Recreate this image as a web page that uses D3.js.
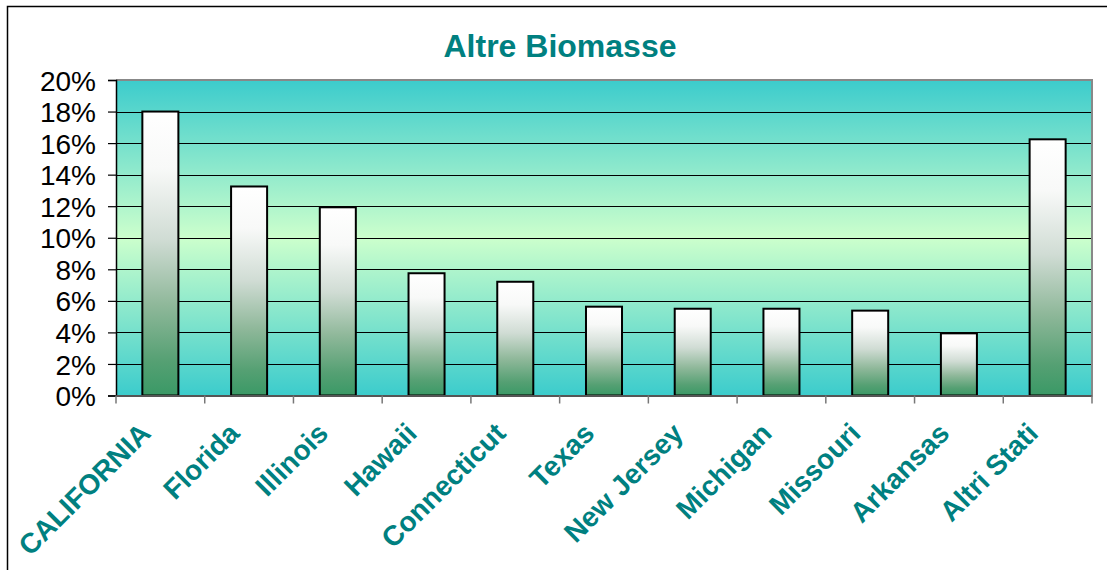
<!DOCTYPE html>
<html>
<head>
<meta charset="utf-8">
<script src="https://cdn.jsdelivr.net/npm/d3@7"></script>
<style>
  html, body { margin: 0; padding: 0; background: #fff; }
  svg { display: block; }
</style>
</head>
<body>
<svg id="chart" width="1107" height="570"></svg>
<script>
const title = "Altre Biomasse";
const categories = ["CALIFORNIA", "Florida", "Illinois", "Hawaii", "Connecticut", "Texas", "New Jersey", "Michigan", "Missouri", "Arkansas", "Altri Stati"];
const values = [0.180, 0.1325, 0.1193, 0.0775, 0.0721, 0.0563, 0.0550, 0.0550, 0.0538, 0.0394, 0.1624];
const yTicks = [0, 0.02, 0.04, 0.06, 0.08, 0.10, 0.12, 0.14, 0.16, 0.18, 0.20];

const svg = d3.select("#chart");
const plot = { left: 116, right: 1092, top: 80, bottom: 395.5 };

// defs: gradients
const defs = svg.append("defs");
const bg = defs.append("linearGradient").attr("id", "bgGrad")
  .attr("x1", 0).attr("y1", 0).attr("x2", 0).attr("y2", 1);
bg.append("stop").attr("offset", "0%").attr("stop-color", "#3ccccc");
bg.append("stop").attr("offset", "50%").attr("stop-color", "#ccffcc");
bg.append("stop").attr("offset", "100%").attr("stop-color", "#3ccccc");

const bar = defs.append("linearGradient").attr("id", "barGrad")
  .attr("x1", 0).attr("y1", 0).attr("x2", 0).attr("y2", 1);
[["0%", "#ffffff"], ["20%", "#f8f9f8"], ["45%", "#d0dcd4"], ["68%", "#8fb89a"], ["88%", "#55a073"], ["100%", "#3a9966"]]
  .forEach(([o, c]) => bar.append("stop").attr("offset", o).attr("stop-color", c));

// outer frame
svg.append("rect").attr("x", 7.5).attr("y", 6.5).attr("width", 1200).attr("height", 700)
  .attr("fill", "#fff").attr("stroke", "#000").attr("stroke-width", 1.5);

const x = d3.scaleBand().domain(categories)
  .range([plot.left, plot.right]).paddingInner(0.594).paddingOuter(0.297);
const y = d3.scaleLinear().domain([0, 0.20]).range([plot.bottom, plot.top]);

// plot background
svg.append("rect").attr("x", plot.left).attr("y", plot.top)
  .attr("width", plot.right - plot.left).attr("height", plot.bottom - plot.top)
  .attr("fill", "url(#bgGrad)");

// gridlines
svg.append("g").selectAll("line").data(yTicks.filter(t => t > 0 && t < 0.2))
  .join("line")
  .attr("x1", plot.left).attr("x2", plot.right)
  .attr("y1", d => Math.round(y(d)) + 0.5).attr("y2", d => Math.round(y(d)) + 0.5)
  .attr("stroke", "#000").attr("stroke-width", 1.2);

// plot border top/right (gray)
svg.append("path")
  .attr("d", `M${plot.left},${plot.top} H${plot.right} V${plot.bottom}`)
  .attr("fill", "none").attr("stroke", "#888").attr("stroke-width", 2);

// bars
svg.append("g").selectAll("rect").data(values)
  .join("rect")
  .attr("x", (d, i) => x(categories[i]))
  .attr("y", d => y(d))
  .attr("width", x.bandwidth())
  .attr("height", d => plot.bottom - y(d))
  .attr("fill", "url(#barGrad)")
  .attr("stroke", "#000").attr("stroke-width", 2);

// y axis
const yAxis = d3.axisLeft(y).tickValues(yTicks).tickFormat(d3.format(".0%")).tickSize(8).tickPadding(12);
const gy = svg.append("g").attr("transform", `translate(${plot.left},0)`).call(yAxis);
gy.select(".domain").attr("stroke", "#000").attr("stroke-width", 1.5);
gy.selectAll(".tick line").attr("stroke", "#000").attr("stroke-width", 1.2);
gy.selectAll(".tick text").attr("fill", "#000")
  .style("font-family", "'Liberation Sans', Arial, sans-serif").style("font-size", "28px")
  .attr("dy", "0.36em");

// x axis
const xAxis = d3.axisBottom(x).tickSize(0).tickFormat("");
const gx = svg.append("g").attr("transform", `translate(0,${plot.bottom})`).call(xAxis);
gx.select(".domain").attr("stroke", "#555").attr("stroke-width", 2);
// boundary ticks between categories
const step = x.step();
const bounds = d3.range(categories.length + 1).map(i => plot.left + i * step);
svg.append("g").selectAll("line").data(bounds).join("line")
  .attr("x1", d => d).attr("x2", d => d)
  .attr("y1", plot.bottom).attr("y2", plot.bottom + 8)
  .attr("stroke", "#777").attr("stroke-width", 1.5);

// category labels
svg.append("g").selectAll("text").data(categories).join("text")
  .attr("transform", d => `translate(${x(d) + x.bandwidth() / 2 - 8},435) rotate(-45)`)
  .attr("text-anchor", "end")
  .attr("fill", "#008080")
  .style("font-family", "'Liberation Sans', Arial, sans-serif")
  .style("font-weight", "bold").style("font-size", "28px")
  .text(d => d);

// title
svg.append("text").attr("x", 560).attr("y", 57).attr("text-anchor", "middle")
  .attr("fill", "#008080")
  .style("font-family", "'Liberation Sans', Arial, sans-serif")
  .style("font-weight", "bold").style("font-size", "32px")
  .text(title);
</script>
</body>
</html>
